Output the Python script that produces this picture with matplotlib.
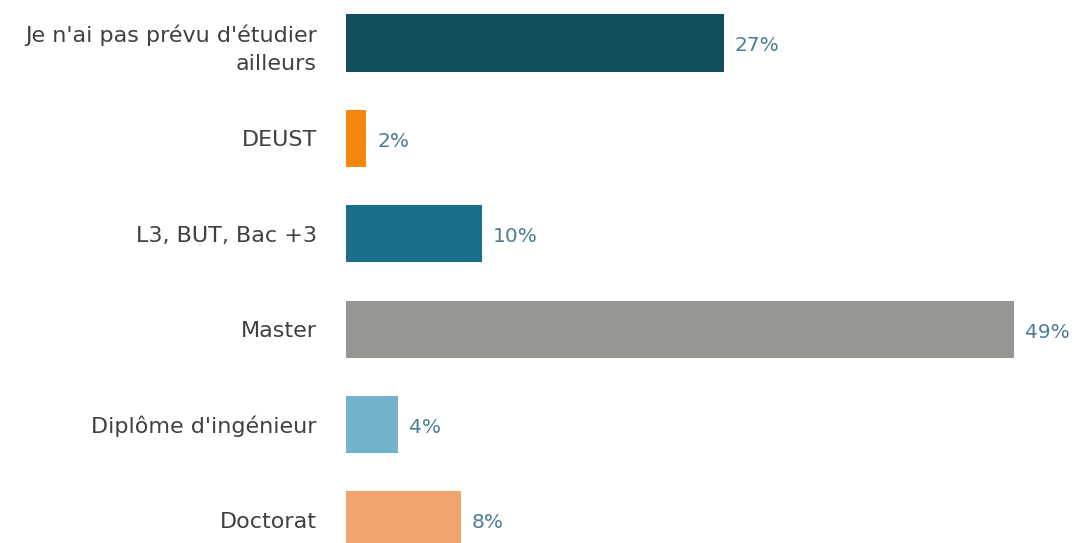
import matplotlib
matplotlib.use("Agg")
import matplotlib.pyplot as plt

categories = ["Je n'ai pas prévu d'étudier\nailleurs", "DEUST", "L3, BUT, Bac +3",
              "Master", "Diplôme d'ingénieur", "Doctorat"]
values = [27.7, 1.5, 10.0, 49.0, 3.8, 8.4]
labels = ["27%", "2%", "10%", "49%", "4%", "8%"]
colors = ["#134e5e", "#f5870a", "#1b7089", "#979591", "#72b3cc", "#f2a46e"]

plt.rcParams["font.family"] = ["DejaVu Sans"]

fig = plt.figure(figsize=(10.74, 5.43), dpi=100)
ax = fig.add_axes([346 / 1074, 0, 728 / 1074, 1])

y = range(len(categories))
ax.barh(y, values, height=0.6, color=colors)

for i, (v, lab) in enumerate(zip(values, labels)):
    ax.text(v + 0.8, i + 0.03, lab, va="center", ha="left", fontsize=14.5, color="#4e7d94")

ax.set_xlim(0, 49 * 728 / 668)
ax.set_ylim(5.24, -0.45)
ax.set_yticks(list(y))
ax.set_yticklabels(categories, fontsize=16, color="#404040", ha="right", linespacing=1.55)
ax.tick_params(axis="y", length=0, pad=21)
ax.set_xticks([])
for s in ax.spines.values():
    s.set_visible(False)

fig.savefig("out.png", dpi=100)
